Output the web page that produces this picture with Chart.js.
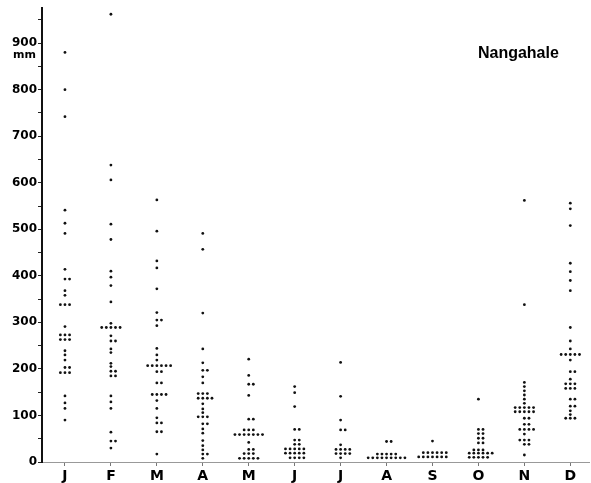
<!DOCTYPE html>
<html>
<head>
<meta charset="utf-8">
<script src="https://cdn.jsdelivr.net/npm/chart.js@4"></script>
<style>
  body { margin: 0; background: #fff; }
</style>
</head>
<body>
<canvas id="rainChart" width="591" height="483"></canvas>
<script>
const months = ["J", "F", "M", "A", "M", "J", "J", "A", "S", "O", "N", "D"];
const stationName = "Nangahale";
const unitLabel = "mm";

// monthly rainfall (mm), one dot per year
const jan = [880, 800, 742, 541, 513, 491, 414, 393, 393, 368, 358, 338, 338, 338, 291, 273, 273, 273, 263, 263, 263, 239, 230, 219, 203, 203, 192, 192, 192, 142, 127, 115, 90];
const feb = [962, 638, 606, 511, 478, 410, 397, 379, 344, 298, 289, 289, 289, 289, 289, 271, 260, 260, 243, 235, 212, 205, 195, 195, 185, 185, 142, 129, 115, 64, 45, 45, 30];
const mar = [563, 496, 432, 417, 372, 321, 305, 305, 293, 244, 230, 219, 207, 207, 207, 207, 207, 207, 194, 194, 170, 170, 145, 145, 145, 145, 132, 115, 95, 84, 84, 65, 65, 17];
const apr = [491, 457, 320, 243, 213, 197, 197, 183, 170, 147, 147, 147, 137, 137, 137, 137, 125, 114, 106, 97, 97, 97, 82, 82, 71, 62, 46, 35, 26, 17, 17, 8];
const may = [221, 186, 167, 167, 143, 92, 92, 69, 69, 69, 59, 59, 59, 59, 59, 59, 59, 42, 27, 27, 18, 18, 18, 8, 8, 8, 8, 8];
const jun = [162, 149, 119, 70, 70, 47, 47, 38, 38, 28, 28, 28, 28, 28, 19, 19, 19, 19, 19, 9, 9, 9, 9];
const jul = [214, 141, 90, 69, 69, 37, 27, 27, 27, 27, 18, 18, 18, 18, 9];
const aug = [44, 44, 17, 17, 17, 17, 17, 9, 9, 9, 9, 9, 9, 9, 9, 9];
const sep = [45, 20, 20, 20, 20, 20, 20, 11, 11, 11, 11, 11, 11, 11];
const oct = [135, 70, 70, 61, 61, 51, 51, 41, 41, 26, 26, 26, 19, 19, 19, 19, 19, 19, 10, 10, 10, 10, 10];
const nov = [562, 338, 171, 162, 153, 144, 135, 126, 117, 117, 117, 117, 117, 108, 108, 108, 108, 108, 94, 94, 81, 81, 70, 70, 70, 70, 60, 47, 47, 47, 38, 38, 15];
const dec = [556, 544, 508, 427, 409, 390, 368, 289, 260, 243, 231, 231, 231, 231, 231, 219, 194, 194, 178, 168, 168, 168, 158, 158, 158, 135, 135, 120, 120, 110, 102, 94, 94, 94];

const rainfall = [jan, feb, mar, apr, may, jun, jul, aug, sep, oct, nov, dec];

// equal values sit side by side: centre, right, left, right, left...
const dotStep = 0.1;
function dotsFor(values, monthIdx) {
    const seen = {};
    return values.map(v => {
        const n = seen[v] || 0;
        seen[v] = n + 1;
        const k = n === 0 ? 0 : (n % 2 === 1 ? (n + 1) / 2 : -n / 2);
        return { x: monthIdx + k * dotStep, y: v };
    });
}

const points = [];
rainfall.forEach((vals, i) => points.push(...dotsFor(vals, i)));

const labelsPlugin = {
    id: "labels",
    afterDraw(chart) {
        const { ctx, scales: { x, y } } = chart;
        ctx.save();
        ctx.fillStyle = "#000";
        ctx.textBaseline = "middle";
        ctx.font = "bold 16px 'Liberation Sans'";
        ctx.textAlign = "center";
        ctx.fillText(stationName, x.getPixelForValue(9.87), y.getPixelForValue(878));
        ctx.font = "bold 11px 'DejaVu Sans'";
        ctx.textAlign = "right";
        ctx.fillText(unitLabel, y.right - 6, y.getPixelForValue(900) + 12);
        ctx.restore();
    }
};

new Chart(document.getElementById("rainChart"), {
    type: "scatter",
    data: {
        datasets: [{
            data: points,
            pointRadius: 1.4,
            pointHoverRadius: 1.4,
            backgroundColor: "#111",
            borderWidth: 0
        }]
    },
    options: {
        responsive: false,
        animation: false,
        layout: { padding: { top: 8, right: 0, left: 0, bottom: 0 } },
        plugins: { legend: { display: false }, tooltip: { enabled: false } },
        scales: {
            x: {
                type: "linear",
                min: -0.5,
                max: 11.42,
                afterBuildTicks: s => { s.ticks = months.map((m, i) => ({ value: i })); },
                afterFit: s => { s.height = 21; },
                ticks: {
                    callback: v => months[v],
                    color: "#000",
                    font: { family: "DejaVu Sans", size: 14, weight: "bold" },
                    padding: 2,
                    maxRotation: 0,
                    autoSkip: false
                },
                grid: { drawOnChartArea: false, tickLength: 4, color: "#777" },
                border: { display: true, color: "#999", width: 1, dash: [7, 3] }
            },
            y: {
                min: 0,
                max: 975,
                afterFit: s => { s.width = 42; },
                ticks: {
                    stepSize: 50,
                    includeBounds: false,
                    callback: v => (v % 100 === 0 ? v : ""),
                    color: "#000",
                    font: { family: "DejaVu Sans", size: 12, weight: "bold" },
                    padding: 1
                },
                grid: { drawOnChartArea: false, tickLength: 4, color: "#222" },
                border: { display: true, color: "#111", width: 2 }
            }
        }
    },
    plugins: [labelsPlugin]
});
</script>
</body>
</html>
